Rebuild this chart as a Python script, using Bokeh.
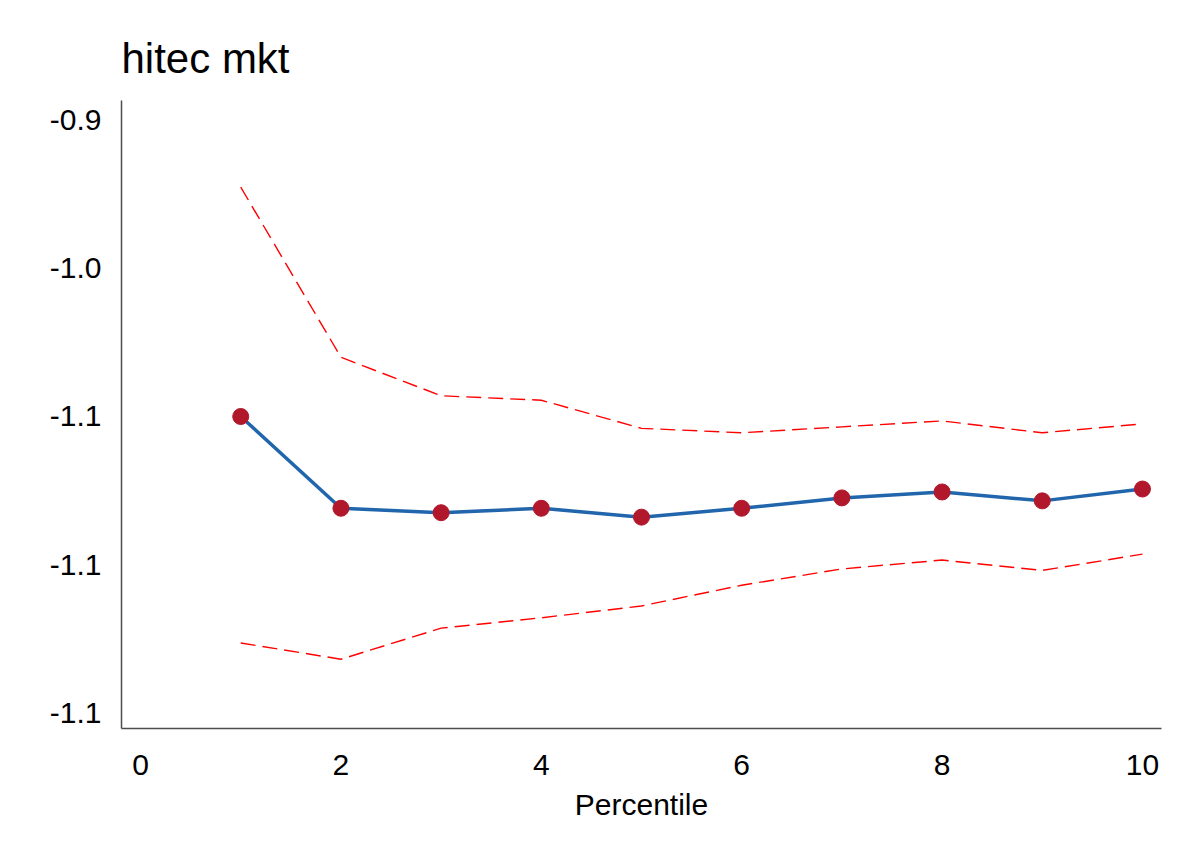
from bokeh.plotting import figure
from bokeh.models import Range1d, FixedTicker
from bokeh.embed import file_html
from bokeh.resources import INLINE

percentile = [1, 2, 3, 4, 5, 6, 7, 8, 9, 10]
estimate = [-1.100, -1.162, -1.165, -1.162, -1.168, -1.162, -1.155, -1.151, -1.157, -1.149]
upper = [-0.945, -1.060, -1.086, -1.089, -1.108, -1.111, -1.107, -1.103, -1.111, -1.105]
lower = [-1.253, -1.264, -1.243, -1.236, -1.228, -1.214, -1.203, -1.197, -1.204, -1.193]

y_ticks = [-0.9, -1.0, -1.1, -1.2, -1.3]
y_tick_labels = ["-0.9", "-1.0", "-1.1", "-1.1", "-1.1"]
x_ticks = [0, 2, 4, 6, 8, 10]

FONT = "Liberation Sans"

p = figure(width=1177, height=852, output_backend="svg", toolbar_location=None,
           title="hitec mkt",
           x_range=Range1d(-0.19, 10.19), y_range=Range1d(-1.3108, -0.8865),
           min_border_left=121, min_border_right=16, min_border_top=100, min_border_bottom=124)

p.title.text_font = FONT
p.title.text_font_size = "42px"
p.title.text_font_style = "normal"
p.title.text_color = "#000000"
p.title.offset = 0
p.title.standoff = 38

p.outline_line_color = None
p.xgrid.grid_line_color = None
p.ygrid.grid_line_color = None
p.background_fill_color = "white"
p.border_fill_color = "white"

for ax in (p.xaxis[0], p.yaxis[0]):
    ax.axis_line_color = "#4d4d4d"
    ax.axis_line_width = 1.5
    ax.major_tick_line_color = None
    ax.minor_tick_line_color = None
    ax.major_label_text_font = FONT
    ax.major_label_text_font_size = "30px"
    ax.major_label_text_color = "#000000"

p.xaxis.ticker = FixedTicker(ticks=x_ticks)
p.xaxis.major_label_standoff = 20
p.xaxis.axis_label = "Percentile"
p.xaxis.axis_label_text_font = FONT
p.xaxis.axis_label_text_font_size = "30px"
p.xaxis.axis_label_text_font_style = "normal"
p.xaxis.axis_label_text_color = "#000000"
p.xaxis.axis_label_standoff = 10

p.yaxis.ticker = FixedTicker(ticks=y_ticks)
p.yaxis.major_label_overrides = {t: l for t, l in zip(y_ticks, y_tick_labels)}
p.yaxis.major_label_standoff = 14

p.line(percentile, upper, line_color="#ff0000", line_width=1.4, line_dash="15 7")
p.line(percentile, lower, line_color="#ff0000", line_width=1.4, line_dash="15 7")
p.line(percentile, estimate, line_color="#2166ac", line_width=3.5)
p.scatter(percentile, estimate, size=16, fill_color="#b2182b", line_color="#b2182b")

open("out.html", "w").write(file_html(p, INLINE))
